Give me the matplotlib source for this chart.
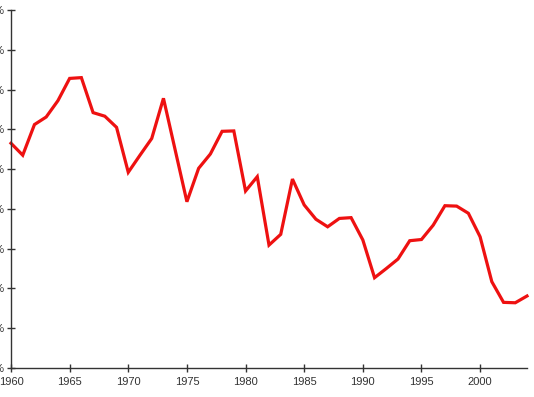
import matplotlib
matplotlib.use("Agg")
import matplotlib.pyplot as plt

years = list(range(1960, 2005))
values = [5.65, 5.35, 6.12, 6.31, 6.72, 7.28, 7.30, 6.42, 6.33, 6.05,
          4.92, 5.35, 5.77, 6.78, 5.48, 4.18, 5.02, 5.38, 5.95, 5.96,
          4.45, 4.81, 3.09, 3.36, 4.75, 4.10, 3.74, 3.55, 3.76, 3.78,
          3.22, 2.27, 2.50, 2.74, 3.20, 3.23, 3.59, 4.08, 4.07, 3.89,
          3.30, 2.17, 1.65, 1.64, 1.81]
y_ticks = list(range(0, 10))
y_labels = [f"{t}%" for t in y_ticks]
x_ticks = list(range(1960, 2001, 5))
x_labels = [str(t) for t in x_ticks]

plt.rcParams['font.family'] = ['Liberation Sans', 'DejaVu Sans']

fig = plt.figure(figsize=(5.34, 3.97), dpi=100)
ax = fig.add_axes([11/534, 29/397, 516/534, 358/397])
ax.plot(years, values, color='#ee1111', linewidth=2.3, solid_joinstyle='miter', clip_on=False)
ax.set_xlim(1960, 2004)
ax.set_ylim(0, 9)
ax.set_xticks(x_ticks)
ax.set_xticklabels(x_labels)
ax.set_yticks(y_ticks)
ax.set_yticklabels(y_labels)
for s in ['top', 'right']:
    ax.spines[s].set_visible(False)
for s in ['left', 'bottom']:
    ax.spines[s].set_color('#333333')
    ax.spines[s].set_linewidth(1.0)
ax.tick_params(axis='both', direction='inout', length=5.5, width=1.0, color='#333333',
               labelsize=8, labelcolor='#333333')
ax.tick_params(axis='x', pad=4)
ax.tick_params(axis='y', pad=2)
fig.savefig('out.png', dpi=100)
